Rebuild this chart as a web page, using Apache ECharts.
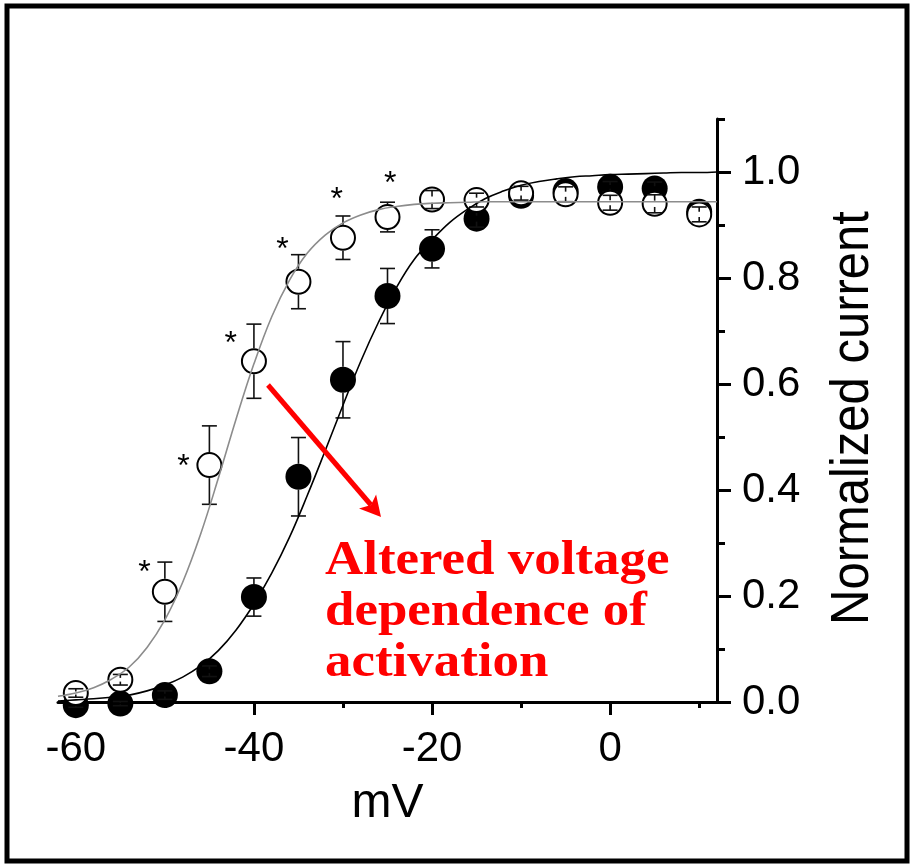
<!DOCTYPE html>
<html>
<head>
<meta charset="utf-8">
<script src="https://cdn.jsdelivr.net/npm/echarts@6/dist/echarts.min.js"></script>
<style>
  html, body { margin: 0; padding: 0; background: #fff; }
  #chart { width: 913px; height: 865px; }
</style>
</head>
<body>
<div id="chart"></div>
<script>
// membrane potential steps (mV)
var voltages = [-60, -55, -50, -45, -40, -35, -30, -25, -20, -15, -10, -5, 0, 5, 10];

// open circles
var openY = [0.017, 0.042, 0.208, 0.447, 0.643, 0.793, 0.876, 0.915, 0.948, 0.947, 0.960, 0.958, 0.942, 0.940, 0.920];
var openErr = [0.008, 0.010, 0.056, 0.074, 0.070, 0.051, 0.041, 0.028, 0.017, 0.013, 0.013, 0.014, 0.014, 0.017, 0.014];

// filled circles
var filledY = [-0.006, -0.003, 0.013, 0.058, 0.198, 0.425, 0.608, 0.766, 0.855, 0.912, 0.955, 0.964, 0.972, 0.969, 0.925];
var filledErr = [0.004, 0.004, 0.008, 0.010, 0.036, 0.074, 0.072, 0.052, 0.036, 0.016, 0.012, 0.012, 0.010, 0.012, 0.012];

// fitted curves
var fitX = [-62, -60, -58, -56, -54, -52, -50, -48, -46, -44, -42, -40, -38, -36, -34, -32, -30, -28, -26, -24,
  -22, -20, -18, -16, -14, -12, -10, -8, -6, -4, -2, 0, 2, 4, 6, 8, 10, 12];
var openFit = [0.011, 0.017, 0.027, 0.043, 0.066, 0.103, 0.155, 0.226, 0.316, 0.422, 0.534, 0.638, 0.727, 0.796,
  0.847, 0.881, 0.904, 0.919, 0.929, 0.935, 0.939, 0.941, 0.942, 0.943, 0.944, 0.944, 0.944, 0.944, 0.944, 0.944,
  0.944, 0.944, 0.944, 0.944, 0.944, 0.944, 0.944, 0.944];
var filledFit = [0.002, 0.004, 0.006, 0.009, 0.013, 0.021, 0.032, 0.047, 0.068, 0.097, 0.136, 0.185, 0.243, 0.311,
  0.390, 0.474, 0.560, 0.643, 0.717, 0.782, 0.835, 0.872, 0.905, 0.930, 0.950, 0.964, 0.975, 0.982, 0.987, 0.991,
  0.993, 0.995, 0.996, 0.997, 0.998, 0.999, 0.999, 1.0];

// significance marks (x, y of the star)
var starPos = [[-52.3, 0.258], [-47.9, 0.459], [-42.6, 0.69], [-36.8, 0.868], [-30.7, 0.962], [-24.7, 0.992]];

// ticks
var xTicks = [-60, -40, -20, 0];
var xMinor = [-50, -30, -10, 10];
var yTicks = [0, 0.2, 0.4, 0.6, 0.8, 1.0];
var yMinor = [0.1, 0.3, 0.5, 0.7, 0.9, 1.1];

var chart = echarts.init(document.getElementById('chart'));

function pairs(xs, ys) {
  return xs.map(function (x, i) { return [x, ys[i]]; });
}
function triples(xs, ys, es) {
  return xs.map(function (x, i) { return [x, ys[i], es[i]]; });
}

// error bars start at the marker edge, caps always drawn
function errorBars(r) {
  return function (params, api) {
    var x = api.value(0), y = api.value(1), e = api.value(2);
    var c = api.coord([x, y]);
    var ends = [api.coord([x, y + e]), api.coord([x, y - e])];
    var d = c[1] - ends[0][1];
    var cap = 7.5;
    var st = { stroke: '#111', lineWidth: 1.6 };
    var kids = [];
    ends.forEach(function (p, i) {
      var s = i === 0 ? -1 : 1;
      var from = d > r ? c[1] + s * r : c[1] + s * d * 0.35;
      kids.push({ type: 'line', shape: { x1: c[0], y1: from, x2: c[0], y2: p[1] }, style: st });
      kids.push({ type: 'line', shape: { x1: c[0] - cap, y1: p[1], x2: c[0] + cap, y2: p[1] }, style: st });
    });
    return { type: 'group', children: kids };
  };
}

var font = 'Liberation Sans';

var option = {
  backgroundColor: '#fff',
  animation: false,
  grid: { left: 58, right: 196, top: 119, bottom: 163, outerBoundsMode: 'none' },
  xAxis: [
    {
      type: 'value',
      min: -62,
      max: 12,
      name: 'mV',
      nameLocation: 'middle',
      nameGap: 78,
      nameTextStyle: { fontFamily: font, fontSize: 48, color: '#000' },
      splitLine: { show: false },
      axisLine: { onZero: false, lineStyle: { color: '#000', width: 3 } },
      axisTick: { customValues: xTicks, length: 13, lineStyle: { color: '#000', width: 3 } },
      axisLabel: { customValues: xTicks, margin: 26, fontFamily: font, fontSize: 42, color: '#000' }
    },
    {
      type: 'value',
      min: -62,
      max: 12,
      position: 'bottom',
      splitLine: { show: false },
      axisLine: { show: false, onZero: false },
      axisTick: { customValues: xMinor, length: 6, lineStyle: { color: '#000', width: 3 } },
      axisLabel: { show: false }
    }
  ],
  yAxis: [
    {
      type: 'value',
      position: 'right',
      min: 0,
      max: 1.1,
      splitLine: { show: false },
      axisLine: { show: true, onZero: false, lineStyle: { color: '#000', width: 3 } },
      axisTick: { customValues: yTicks, length: 14, lineStyle: { color: '#000', width: 3 } },
      axisLabel: {
        customValues: yTicks,
        margin: 25,
        fontFamily: font,
        fontSize: 42,
        color: '#000',
        formatter: function (v) { return v.toFixed(1); }
      }
    },
    {
      type: 'value',
      position: 'right',
      min: 0,
      max: 1.1,
      splitLine: { show: false },
      axisLine: { show: false, onZero: false },
      axisTick: { customValues: yMinor, length: 8, lineStyle: { color: '#000', width: 3 } },
      axisLabel: { show: false }
    }
  ],
  graphic: [
    {
      type: 'rect',
      shape: { x: 7, y: 6, width: 900, height: 855 },
      style: { fill: 'none', stroke: '#000', lineWidth: 5 },
      z: 100
    },
    {
      type: 'text',
      x: 853,
      y: 418,
      rotation: Math.PI / 2,
      scaleY: 1.08,
      style: {
        text: 'Normalized current',
        font: '49px "Liberation Sans"',
        fill: '#000',
        align: 'center',
        verticalAlign: 'middle'
      }
    },
    {
      type: 'text',
      x: 325,
      y: 536,
      scaleX: 1.08,
      style: {
        text: 'Altered voltage\ndependence of\nactivation',
        font: 'bold 49px "Liberation Serif"',
        lineHeight: 51,
        fill: '#ff0000',
        align: 'left',
        verticalAlign: 'top'
      },
      z: 50
    },
    {
      type: 'line',
      shape: { x1: 268, y1: 385, x2: 371, y2: 505 },
      style: { stroke: '#ff0000', lineWidth: 5 },
      z: 50
    },
    {
      type: 'polygon',
      shape: { points: [[381, 517], [359, 508.6], [371, 505], [376.1, 494.4]] },
      style: { fill: '#ff0000' },
      z: 50
    }
  ],
  series: [
    {
      type: 'scatter',
      data: pairs(voltages, filledY),
      symbol: 'circle',
      symbolSize: 26,
      clip: false,
      itemStyle: { color: '#000', opacity: 1 },
      z: 1
    },
    {
      type: 'custom',
      data: triples(voltages, filledY, filledErr),
      renderItem: errorBars(13),
      encode: { x: 0, y: 1 },
      clip: false,
      z: 2
    },
    {
      type: 'scatter',
      data: pairs(voltages, openY),
      symbol: 'circle',
      symbolSize: 24,
      clip: false,
      itemStyle: { color: '#fff', borderColor: '#000', borderWidth: 2, opacity: 1 },
      z: 3
    },
    {
      type: 'custom',
      data: triples(voltages, openY, openErr),
      renderItem: errorBars(13),
      encode: { x: 0, y: 1 },
      clip: false,
      z: 4
    },
    {
      type: 'line',
      data: pairs(fitX, filledFit),
      showSymbol: false,
      symbol: 'none',
      smooth: 0.4,
      lineStyle: { color: '#000', width: 1.6 },
      z: 5
    },
    {
      type: 'line',
      data: pairs(fitX, openFit),
      showSymbol: false,
      symbol: 'none',
      smooth: 0.4,
      lineStyle: { color: '#8c8c8c', width: 1.6 },
      z: 5
    },
    {
      type: 'custom',
      data: starPos,
      encode: { x: 0, y: 1 },
      clip: false,
      renderItem: function (params, api) {
        var p = api.coord([api.value(0), api.value(1)]);
        return {
          type: 'text',
          x: p[0],
          y: p[1] + 8,
          style: {
            text: '*',
            font: '32px "Liberation Sans"',
            fill: '#000',
            align: 'center',
            verticalAlign: 'middle'
          }
        };
      },
      z: 6
    }
  ]
};

chart.setOption(option);
</script>
</body>
</html>
